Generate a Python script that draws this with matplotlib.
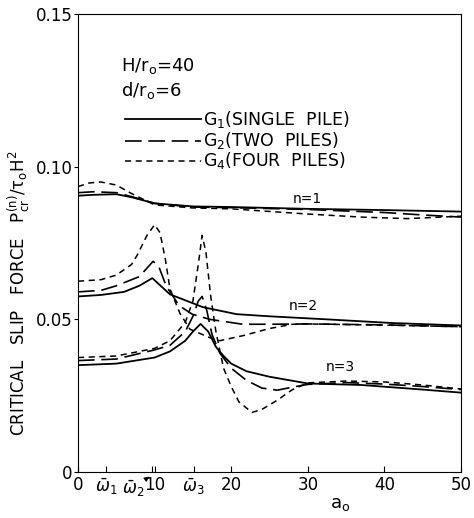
import matplotlib
matplotlib.use("Agg")
import matplotlib.pyplot as plt

# ---- data (a_o vs P_cr / tau_o H^2) ----
# n = 1
x1_g1 = [0, 2, 5, 7, 10, 15, 20, 30, 40, 50]
y1_g1 = [0.0905, 0.0908, 0.0910, 0.0900, 0.0880, 0.0870, 0.0868, 0.0862, 0.0858, 0.0853]
x1_g2 = [0, 2, 5, 7, 10, 15, 20, 30, 40, 45, 50]
y1_g2 = [0.0915, 0.0918, 0.0915, 0.0902, 0.0880, 0.0868, 0.0866, 0.0860, 0.0850, 0.0842, 0.0835]
x1_g4 = [0, 1.5, 3, 5, 7, 10, 15, 20, 30, 37, 43, 50]
y1_g4 = [0.0935, 0.0947, 0.0950, 0.0940, 0.0912, 0.0875, 0.0865, 0.0862, 0.0845, 0.0835, 0.0830, 0.0838]

# n = 2
x2_g1 = [0, 3, 6, 8, 9.7, 12, 16.3, 20.7, 25, 32.5, 41, 50]
y2_g1 = [0.0575, 0.0580, 0.0590, 0.0610, 0.0635, 0.0582, 0.0540, 0.0517, 0.0510, 0.0500, 0.0488, 0.0480]
x2_g2 = [0, 3, 5, 8, 9.8, 10.5, 11.5, 13.2, 14.9, 17.2, 21.5, 25, 30, 40, 50]
y2_g2 = [0.0590, 0.0595, 0.0610, 0.0640, 0.0690, 0.0676, 0.0610, 0.0545, 0.0517, 0.0500, 0.0484, 0.0484, 0.0485, 0.0482, 0.0476]
x2_g4 = [0, 3, 5, 7, 7.7, 9, 10, 10.7, 11.4, 12, 13.3, 14.6, 17.2, 18.5, 21.6, 25, 28, 30, 40, 50]
y2_g4 = [0.0625, 0.0630, 0.0645, 0.0680, 0.0709, 0.0775, 0.0810, 0.0784, 0.0697, 0.0600, 0.0520, 0.0468, 0.0440, 0.0430, 0.0447, 0.0470, 0.0484, 0.0485, 0.0481, 0.0476]

# n = 3
x3_g1 = [0, 5, 10, 12, 14, 15, 16, 17, 18, 19, 20, 22, 25, 30, 37, 45, 50]
y3_g1 = [0.0350, 0.0355, 0.0375, 0.0395, 0.0430, 0.0460, 0.0485, 0.0460, 0.0410, 0.0380, 0.0355, 0.0330, 0.0312, 0.0290, 0.0285, 0.0270, 0.0260]
x3_g2 = [0, 5, 10, 12, 14, 15, 15.7, 16.2, 16.8, 17.5, 18.5, 20, 22, 24, 26, 28, 30, 35, 40, 45, 50]
y3_g2 = [0.0365, 0.0370, 0.0400, 0.0415, 0.0460, 0.0510, 0.0560, 0.0575, 0.0530, 0.0450, 0.0390, 0.0340, 0.0300, 0.0275, 0.0268, 0.0278, 0.0287, 0.0293, 0.0288, 0.0280, 0.0270]
x3_g4 = [0, 5, 10, 12, 14, 15, 15.7, 16.2, 16.7, 17.3, 18, 19, 20, 21, 22.7, 24, 26, 28, 30, 35, 40, 45, 50]
y3_g4 = [0.0375, 0.0380, 0.0405, 0.0430, 0.0490, 0.0560, 0.0680, 0.0775, 0.0720, 0.0580, 0.0460, 0.0340, 0.0280, 0.0230, 0.0195, 0.0205, 0.0235, 0.0270, 0.0292, 0.0298, 0.0295, 0.0285, 0.0272]

x_ticks = [0, 3.7, 9.7, 10, 15.1, 20, 30, 40, 50]
x_ticklabels = ['0', r'$\bar{\omega}_{1}$', '', '10', r'$\bar{\omega}_{3}$', '20', '30', '40', '50']
y_ticks = [0, 0.05, 0.10, 0.15]
y_ticklabels = ['0', '0.05', '0.10', '0.15']

# ---- styles ----
solid = dict(color='black', lw=1.3, linestyle='-')
longdash = dict(color='black', lw=1.2, linestyle=(0, (10, 4)))
shortdash = dict(color='black', lw=1.1, linestyle=(0, (4, 3)))

fig = plt.figure(figsize=(4.74, 5.18), dpi=100)
ax = fig.add_axes([0.1646, 0.0888, 0.808, 0.884])

for xs, ys, st in [(x1_g1, y1_g1, solid), (x1_g2, y1_g2, longdash), (x1_g4, y1_g4, shortdash),
                   (x2_g1, y2_g1, solid), (x2_g2, y2_g2, longdash), (x2_g4, y2_g4, shortdash),
                   (x3_g1, y3_g1, solid), (x3_g2, y3_g2, longdash), (x3_g4, y3_g4, shortdash)]:
    ax.plot(xs, ys, **st)

ax.set_xlim(0, 50)
ax.set_ylim(0, 0.15)
ax.set_xticks(x_ticks)
ax.set_xticklabels(x_ticklabels, fontsize=12)
ax.set_yticks(y_ticks)
ax.set_yticklabels(y_ticklabels, fontsize=12)
ax.tick_params(axis='x', direction='in', length=4, pad=3)
ax.tick_params(axis='y', direction='out', length=3, pad=1)

ax.annotate(r'$\bar{\omega}_{2}$', xy=(9.3, -0.0015), xytext=(7.2, -0.0055),
            xycoords='data', textcoords='data', ha='center', va='center', fontsize=12,
            annotation_clip=False,
            arrowprops=dict(arrowstyle='-|>', color='black', lw=0.8, mutation_scale=7,
                            shrinkA=5, shrinkB=0))

ax.set_xlabel(r'$\mathrm{a_{o}}$', fontsize=13)
ax.xaxis.set_label_coords(0.684, -0.05)
ax.set_ylabel(r'CRITICAL   SLIP   FORCE   $\mathrm{P_{cr}^{(n)}/\tau_{o}H^{2}}$', fontsize=12)
ax.yaxis.set_label_coords(-0.12, 0.39)

# annotations
ax.text(5.6, 0.133, r'H/r$_{\mathrm{o}}$=40', fontsize=13, va='center')
ax.text(5.6, 0.125, r'd/r$_{\mathrm{o}}$=6', fontsize=13, va='center')
ax.text(28.0, 0.0895, 'n=1', fontsize=10, va='center')
ax.text(27.5, 0.0545, 'n=2', fontsize=10, va='center')
ax.text(32.3, 0.0345, 'n=3', fontsize=10, va='center')

# legend drawn by hand to keep the original look
leg_y = [0.1155, 0.1085, 0.102]
leg_text = [r'G$_{1}$(SINGLE  PILE)', r'G$_{2}$(TWO  PILES)', r'G$_{4}$(FOUR  PILES)']
for ly, lt, st in zip(leg_y, leg_text, [solid, longdash, shortdash]):
    ax.plot([6.1, 16.0], [ly, ly], **st)
    ax.text(16.3, ly, lt, fontsize=12.5, va='center')

fig.savefig('out.png', dpi=100)
